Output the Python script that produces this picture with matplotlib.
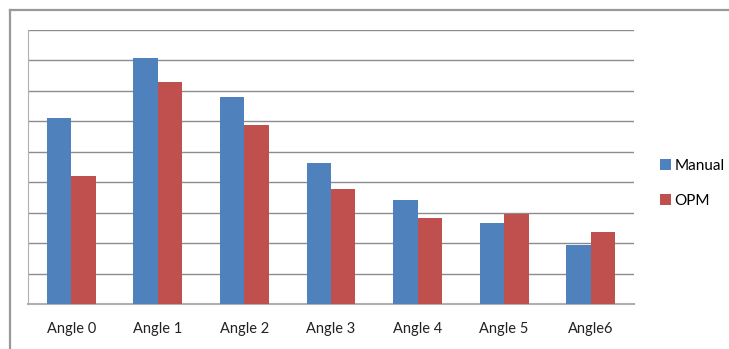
import matplotlib
matplotlib.use('Agg')
import matplotlib.pyplot as plt
import numpy as np
from matplotlib.lines import Line2D

plt.rcParams['font.family'] = ['Lato', 'DejaVu Sans']

categories = ['Angle 0', 'Angle 1', 'Angle 2', 'Angle 3', 'Angle 4', 'Angle 5', 'Angle6']
manual = [6.12, 8.09, 6.81, 4.64, 3.40, 2.65, 1.95]
opm = [4.21, 7.30, 5.89, 3.77, 2.82, 2.95, 2.35]

W, H = 729, 349
fig = plt.figure(figsize=(W / 100, H / 100), dpi=100, facecolor='white')
ax = fig.add_axes([28 / W, (H - 304) / H, 606 / W, 274 / H])

x = np.arange(len(categories))
bw = 0.283
ax.bar(x - bw / 2, manual, bw, color='#4F81BD', label='Manual', zorder=3)
ax.bar(x + bw / 2, opm, bw, color='#C0504D', label='OPM', zorder=3)

ax.set_xlim(-0.5, len(categories) - 0.5)
ax.set_ylim(0, 9)
ax.set_yticks(np.arange(0, 10))
ax.set_yticklabels([])
ax.yaxis.grid(True, color='#8c8c8c', linewidth=1.0, zorder=0)
ax.tick_params(axis='y', length=0)
ax.tick_params(axis='x', length=0, pad=13, labelsize=10.5, labelcolor='#222222')
ax.set_xticks(x)
ax.set_xticklabels(categories)

for side in ['top', 'right']:
    ax.spines[side].set_visible(False)
ax.spines['left'].set_color('#b0b0b0')
ax.spines['bottom'].set_color('#b0b0b0')
ax.spines['bottom'].set_linewidth(1.5)

ax.legend(loc='center left', bbox_to_anchor=(1.02, 0.44), frameon=False,
          handlelength=0.7, handleheight=0.7, handletextpad=0.25,
          labelspacing=1.4, fontsize=11)

# chart border (cut off on the right and bottom)
fig.add_artist(Line2D([10 / W, 1], [1 - 10 / H, 1 - 10 / H], transform=fig.transFigure,
                      color='#999999', linewidth=1.6))
fig.add_artist(Line2D([10 / W, 10 / W], [0, 1 - 10 / H], transform=fig.transFigure,
                      color='#999999', linewidth=1.6))

fig.savefig('out.png', dpi=100, facecolor='white')
